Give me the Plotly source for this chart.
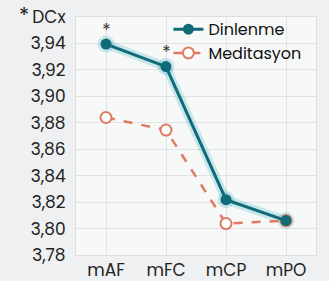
import plotly.graph_objects as go

categories = ["mAF", "mFC", "mCP", "mPO"]
dinlenme = [3.9395, 3.9225, 3.8218, 3.806]
meditasyon = [3.884, 3.8745, 3.8038, 3.806]
y_ticks = [3.78, 3.80, 3.82, 3.84, 3.86, 3.88, 3.90, 3.92, 3.94, 3.96]
y_labels = ["3,78", "3,80", "3,82", "3,84", "3,86", "3,88", "3,90", "3,92", "3,94", "DCx"]
star_cats = ["mAF", "mFC"]

TEAL = "#0f6b78"
ORANGE = "#e07b62"
FONT = "Poppins, Lato, 'Open Sans', sans-serif"

fig = go.Figure()
# glow under teal line
fig.add_trace(go.Scatter(x=categories, y=dinlenme, mode="lines+markers",
                         line=dict(color="rgba(40,170,190,0.22)", width=9),
                         marker=dict(size=17, color="rgba(40,170,190,0.22)"),
                         showlegend=False, hoverinfo="skip"))
fig.add_trace(go.Scatter(x=categories, y=meditasyon, mode="lines+markers", name="Meditasyon",
                         line=dict(color=ORANGE, width=2.5, dash="dash"),
                         marker=dict(size=11, color="#ffffff", symbol="circle",
                                     line=dict(color=ORANGE, width=2))))
fig.add_trace(go.Scatter(x=categories, y=dinlenme, mode="lines+markers", name="Dinlenme",
                         line=dict(color=TEAL, width=3),
                         marker=dict(size=11, color=TEAL)))

for c in star_cats:
    i = categories.index(c)
    fig.add_annotation(x=c, y=dinlenme[i], text="*", showarrow=False, yshift=15,
                       font=dict(size=18, color="#333", family=FONT))
fig.add_annotation(xref="paper", yref="paper", x=-0.245, y=1.075, text="*", showarrow=False,
                   font=dict(size=21, color="#222", family=FONT))

fig.update_layout(
    width=329, height=281,
    margin=dict(l=76, r=13, t=17, b=26),
    paper_bgcolor="#eef0f1",
    plot_bgcolor="#f7f8f8",
    font=dict(family=FONT, size=16, color="#222"),
    showlegend=True,
    legend=dict(x=0.385, y=1.02, xanchor="left", yanchor="top", traceorder="reversed",
                bgcolor="rgba(0,0,0,0)", font=dict(size=16, color="#111"),
                itemwidth=30, tracegroupgap=0),
)
fig.update_xaxes(range=[-0.5, 3.5], showgrid=True, gridcolor="#e2e4e4", gridwidth=1,
                 showline=True, linecolor="#dcdede", mirror=True, automargin=False,
                 zeroline=False, ticks="", tickfont=dict(size=17, color="#222"),
                 fixedrange=True)
fig.update_yaxes(range=[3.78, 3.96], tickvals=y_ticks, ticktext=y_labels, automargin=False,
                 showgrid=True, gridcolor="#e2e4e4", gridwidth=1, zeroline=False,
                 showline=True, linecolor="#dcdede", mirror=True, ticks="", ticklabelstandoff=6,
                 tickfont=dict(size=17, color="#222"), fixedrange=True)

fig.write_html("out.html")
